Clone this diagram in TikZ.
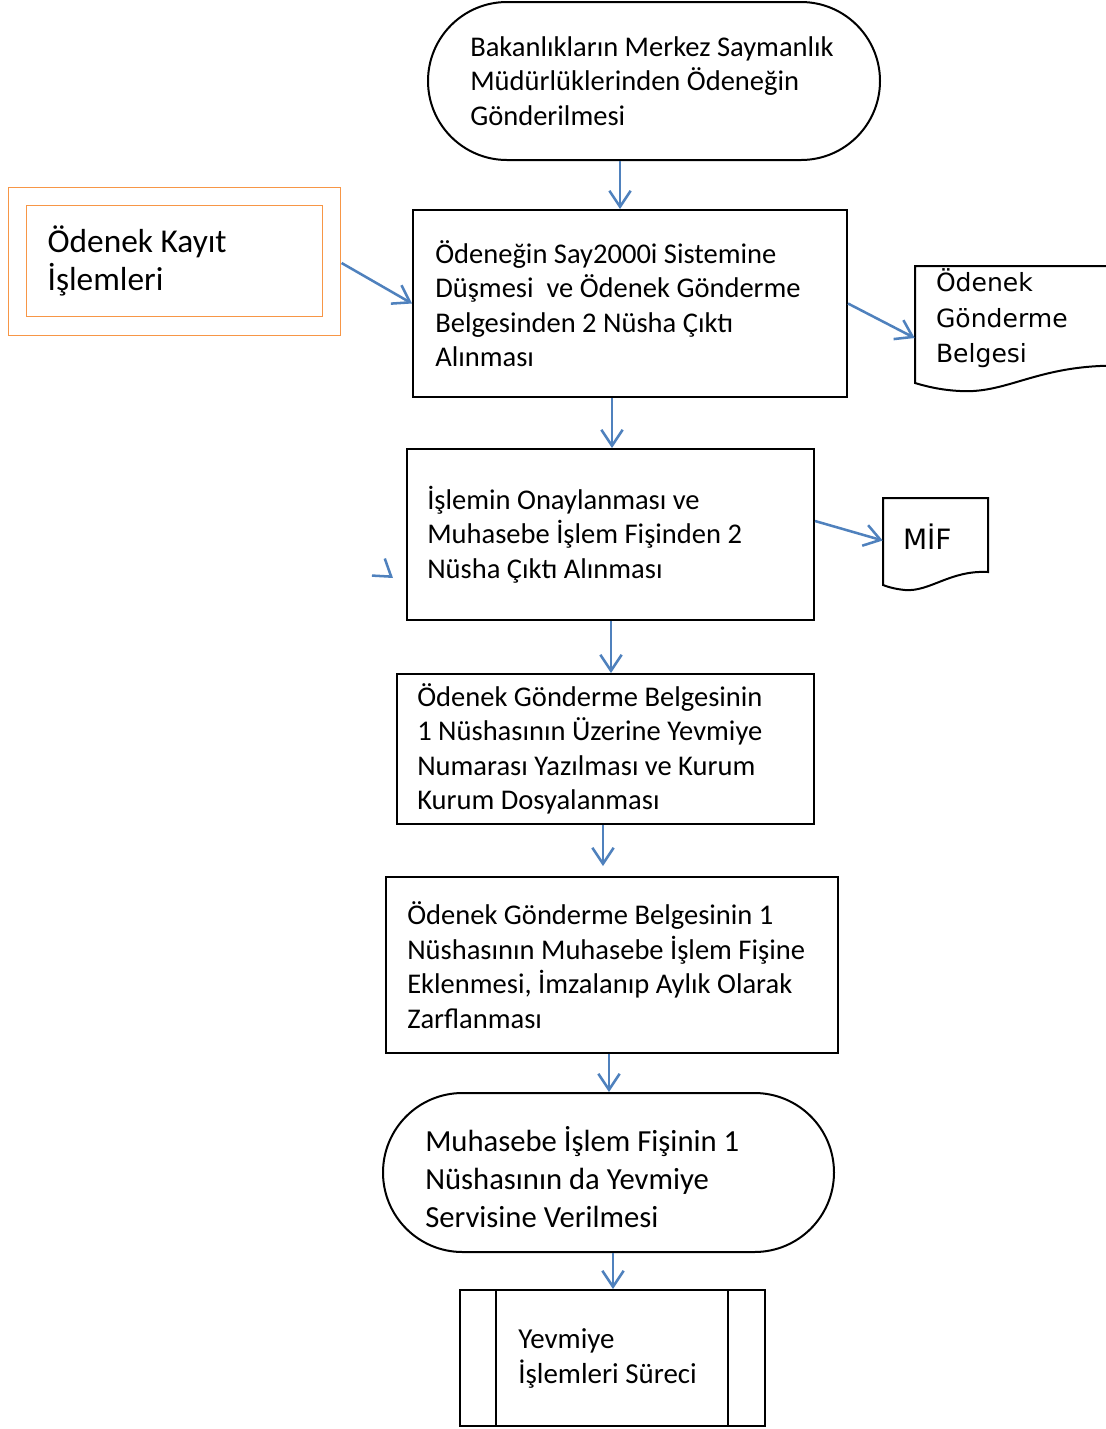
\documentclass[tikz,border=0pt]{standalone}
\usepackage{fontspec}
\setmainfont{Carlito}
\newfontfamily\belgefont{DejaVu Sans}
\usetikzlibrary{arrows.meta}

\definecolor{okmavi}{HTML}{4F81BD}
\definecolor{turuncu}{HTML}{F79646}
\newdimen\pxu \pxu=0.75pt
\newcommand{\govde}{\fontsize{21.4pt}{25.9pt}\selectfont}

\tikzset{
  kutu/.style={draw, line width=1.5pt, inner sep=0pt},
  metin/.style={anchor=west, align=left, inner sep=0pt, font=\govde},
  yazi/.style 2 args={label={[metin,#1]west:{#2}}},
  uc/.style={draw=okmavi, line width=1.9pt, -{Straight Barb[length=12pt,width=16pt]}},
}

\begin{document}
\begin{tikzpicture}[x=0.75pt, y=-0.75pt]
\useasboundingbox (0,0) rectangle (1106,1429);

% akis kutulari
\node [kutu, rounded corners=79\pxu, minimum width=452\pxu, minimum height=158\pxu,
  yazi={xshift=43\pxu}{Bakanlıkların Merkez Saymanlık\\Müdürlüklerinden Ödeneğin\\Gönderilmesi}] (bas) at (654,81) {};
\node [draw=turuncu, line width=0.9pt, double=white, double distance=17.5\pxu, inner sep=0pt,
  minimum width=314\pxu, minimum height=129.5\pxu,
  yazi={xshift=30.5\pxu, font=\fontsize{25pt}{28.5pt}\selectfont}{Ödenek Kayıt\\İşlemleri}] (kayit) at (174.5,261.25) {};
\node [kutu, minimum width=434\pxu, minimum height=187\pxu,
  yazi={xshift=23\pxu}{Ödeneğin Say2000i Sistemine\\Düşmesi~ ve Ödenek Gönderme\\Belgesinden 2 Nüsha Çıktı\\Alınması}] (gonder) at (630,303.5) {};
\node [kutu, minimum width=407\pxu, minimum height=171\pxu,
  yazi={xshift=21\pxu}{İşlemin Onaylanması ve\\Muhasebe İşlem Fişinden 2\\Nüsha Çıktı Alınması}] (onay) at (610.5,534.5) {};
\node [kutu, minimum width=417\pxu, minimum height=150\pxu,
  yazi={xshift=21\pxu}{Ödenek Gönderme Belgesinin\\1 Nüshasının Üzerine Yevmiye\\Numarası Yazılması ve Kurum\\Kurum Dosyalanması}] (numara) at (605.5,749) {};
\node [kutu, minimum width=452\pxu, minimum height=176\pxu,
  yazi={xshift=22\pxu}{Ödenek Gönderme Belgesinin 1\\Nüshasının Muhasebe İşlem Fişine\\Eklenmesi, İmzalanıp Aylık Olarak\\Zarflanması}] (zarf) at (612,965) {};
\node [kutu, rounded corners=79.5\pxu, minimum width=451\pxu, minimum height=159\pxu,
  yazi={shift={(43,4.5)}, font=\fontsize{23pt}{28.5pt}\selectfont}{Muhasebe İşlem Fişinin 1\\Nüshasının da Yevmiye\\Servisine Verilmesi}] (bitis) at (608.5,1172.5) {};
\node [kutu, minimum width=305\pxu, minimum height=136\pxu,
  yazi={xshift=59\pxu, font=\fontsize{21.7pt}{26.3pt}\selectfont}{Yevmiye\\İşlemleri Süreci}] (yevmiye) at (612.5,1358) {};
\draw [line width=1.5pt] ([xshift=37\pxu]yevmiye.north west) -- ([xshift=37\pxu]yevmiye.south west);
\draw [line width=1.5pt] ([xshift=-38\pxu]yevmiye.north east) -- ([xshift=-38\pxu]yevmiye.south east);

% belgeler
\node [inner sep=0pt, minimum width=215\pxu, minimum height=120\pxu,
  yazi={shift={(21,-7.5)}, font=\belgefont\fontsize{18.8pt}{26.6pt}\selectfont}{Ödenek\\Gönderme\\Belgesi}] (belge) at (1022.5,326) {};
\draw [line width=1.5pt] (915,266) -- (1130,266) -- (1130,366)
  .. controls (1040,362) and (1010,394) .. (960,391)
  .. controls (940,390) and (925,386) .. (915,383) -- cycle;
\node [inner sep=0pt, minimum width=105\pxu, minimum height=88\pxu,
  yazi={shift={(20,-5)}, font=\belgefont\fontsize{21pt}{26.6pt}\selectfont}{MİF}] (mif) at (935.5,542) {};
\draw [line width=1.5pt] (883,498) -- (988,498) -- (988,572)
  .. controls (950,570) and (930,592) .. (905,590)
  .. controls (895,589) and (888,587) .. (883,585) -- cycle;

% oklar
\draw [uc] ([xshift=-34\pxu]bas.south) -- ([xshift=-10\pxu]gonder.north);
\draw [uc] ([shift={(9.5,1.75)}]kayit.east) -- (gonder.west);
\draw [uc] (gonder.east) -- ([yshift=-12\pxu]belge.west);
\draw [uc] ([xshift=-18\pxu]gonder.south) -- ([xshift=1.5\pxu]onay.north);
\draw [uc] ([yshift=13.5\pxu]onay.east) -- ([yshift=1.5\pxu]mif.west);
\draw [uc] ([xshift=0.5\pxu]onay.south) -- ([xshift=5.5\pxu]numara.north);
\draw [uc] ([xshift=-2.5\pxu]numara.south) -- ([shift={(-9,-10)}]zarf.north);
\draw [uc] ([xshift=-3\pxu]zarf.south) -- ([xshift=0.5\pxu]bitis.north);
\draw [uc] ([xshift=4.5\pxu]bitis.south) -- ([xshift=0.5\pxu]yevmiye.north);
\coordinate (bosA) at (391.4,576.8);
\coordinate (bosB) at (393,578);
\draw [uc] (bosA) -- (bosB);
\end{tikzpicture}
\end{document}
